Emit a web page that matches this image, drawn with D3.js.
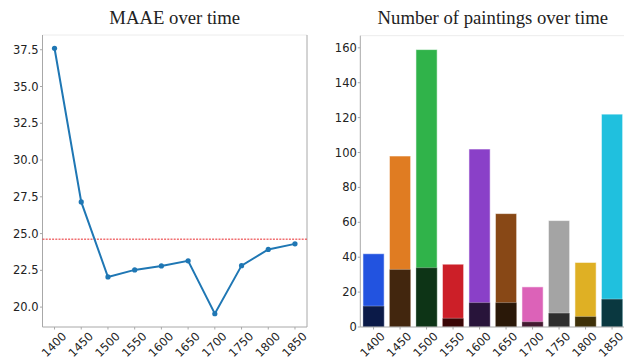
<!DOCTYPE html>
<html><head><meta charset="utf-8">
<script src="https://cdn.jsdelivr.net/npm/d3@7"></script>
<style>body{margin:0;background:#fff}svg{display:block}</style>
</head><body>
<svg id="c" width="624" height="361"></svg>
<script>
const years = [1400,1450,1500,1550,1600,1650,1700,1750,1800,1850];
const maae = [37.6,27.15,22.05,22.53,22.8,23.15,19.55,22.82,23.92,24.3];
const maaeMean = [24.62];
const totalCounts = [42,98,159,36,102,65,23,61,37,122];
const darkCounts = [12,33,34,5,14,14,3,8,6,16];
const barColors = ["#2253e0","#e07c22","#30b34a","#cc1f28","#8a40c8","#884816","#dc62b8","#a4a4a4","#dfb024","#20c0de"];
const darkColors = ["#0b1a48","#42260e","#0d3416","#3a0606","#28143a","#2a1808","#421a30","#2e2e2e","#3e3008","#0a3840"];
const leftYTicks = [20.0,22.5,25.0,27.5,30.0,32.5,35.0,37.5];
const rightYTicks = [0,20,40,60,80,100,120,140,160];
const titles = ["MAAE over time","Number of paintings over time"];

const svg = d3.select("#c");
const tickFont = "DejaVu Sans";
const fs = "11.5px";
const spine = "#a8a8a8";

// ---------- Left chart ----------
const L = {x0:42.5, x1:307, y0:35, y1:327};
const xL = d3.scaleLinear().domain([1400-22.5,1850+22.5]).range([L.x0,L.x1]);
const mn = d3.min(maae), mx = d3.max(maae), pad = (mx-mn)*0.05;
const yL = d3.scaleLinear().domain([mn-pad, mx+pad]).range([L.y1,L.y0]);
const gL = svg.append("g");
gL.append("line").attr("x1",L.x0).attr("x2",L.x1).attr("y1",L.y0).attr("y2",L.y0).attr("stroke","#ececec");
gL.append("line").attr("x1",L.x1).attr("x2",L.x1).attr("y1",L.y0).attr("y2",L.y1).attr("stroke",spine);
gL.append("line").attr("x1",L.x0).attr("x2",L.x0).attr("y1",L.y0).attr("y2",L.y1).attr("stroke",spine);
gL.append("line").attr("x1",L.x0).attr("x2",L.x1).attr("y1",L.y1).attr("y2",L.y1).attr("stroke",spine);
// y ticks
leftYTicks.forEach(t=>{
  const y = yL(t);
  gL.append("line").attr("x1",L.x0-2.5).attr("x2",L.x0).attr("y1",y).attr("y2",y).attr("stroke",spine);
  gL.append("text").attr("x",L.x0-4).attr("y",y).attr("text-anchor","end").attr("dominant-baseline","central")
    .attr("font-family",tickFont).attr("font-size",fs).attr("fill","#222").text(t.toFixed(1));
});
years.forEach(t=>{
  const x = xL(t);
  gL.append("line").attr("x1",x).attr("x2",x).attr("y1",L.y1).attr("y2",L.y1+2.5).attr("stroke",spine);
  gL.append("text").attr("transform",`translate(${x-0.5},344.5) rotate(-45)`).attr("text-anchor","middle").attr("dominant-baseline","central")
    .attr("font-family",tickFont).attr("font-size",fs).attr("fill","#222").text(t);
});
// mean line
gL.append("line").attr("x1",L.x0).attr("x2",L.x1).attr("y1",yL(maaeMean[0])).attr("y2",yL(maaeMean[0]))
  .attr("stroke","#e8262a").attr("stroke-width",1).attr("stroke-dasharray","2,1.2");
const line = d3.line().x((d,i)=>xL(years[i])).y(d=>yL(d));
gL.append("path").datum(maae).attr("d",line).attr("fill","none").attr("stroke","#1f77b4").attr("stroke-width",2);
gL.selectAll("circle").data(maae).join("circle").attr("cx",(d,i)=>xL(years[i])).attr("cy",d=>yL(d)).attr("r",2.6).attr("fill","#1f77b4");
gL.append("text").attr("x",(L.x0+L.x1)/2).attr("y",24).attr("text-anchor","middle")
  .attr("font-family","Liberation Serif").attr("font-size","18.7px").attr("fill","#222").text(titles[0]);

// ---------- Right chart ----------
const R = {x0:360.3, x1:625.3, y0:35.7, y1:327};
const xR = d3.scaleBand().domain(years).range([R.x0,R.x1]).paddingInner(0.2).paddingOuter(0.1);
const yR = d3.scaleLinear().domain([0, d3.max(totalCounts)*1.05]).range([R.y1,R.y0]);
const gR = svg.append("g");
gR.append("line").attr("x1",R.x0).attr("x2",R.x1).attr("y1",R.y0).attr("y2",R.y0).attr("stroke","#ececec");
rightYTicks.forEach(t=>{
  const y = yR(t);
  gR.append("line").attr("x1",R.x0-2.5).attr("x2",R.x0).attr("y1",y).attr("y2",y).attr("stroke",spine);
  gR.append("text").attr("x",R.x0-3.5).attr("y",y).attr("text-anchor","end").attr("dominant-baseline","central")
    .attr("font-family",tickFont).attr("font-size",fs).attr("fill","#222").text(t);
});
gR.selectAll("rect.tot").data(totalCounts).join("rect").attr("class","tot")
  .attr("x",(d,i)=>xR(years[i])).attr("width",xR.bandwidth())
  .attr("y",d=>yR(d)).attr("height",d=>R.y1-yR(d))
  .attr("fill",(d,i)=>barColors[i]).attr("stroke","rgba(255,255,255,0.55)").attr("stroke-width",1);
gR.selectAll("rect.dk").data(darkCounts).join("rect").attr("class","dk")
  .attr("x",(d,i)=>xR(years[i])).attr("width",xR.bandwidth())
  .attr("y",d=>yR(d)).attr("height",d=>R.y1-yR(d))
  .attr("fill",(d,i)=>darkColors[i]).attr("stroke","rgba(255,255,255,0.3)").attr("stroke-width",1);
gR.append("line").attr("x1",R.x0).attr("x2",R.x0).attr("y1",R.y0).attr("y2",R.y1).attr("stroke",spine);
gR.append("line").attr("x1",R.x0).attr("x2",R.x1).attr("y1",R.y1).attr("y2",R.y1).attr("stroke",spine);
years.forEach(t=>{
  const x = xR(t)+xR.bandwidth()/2;
  gR.append("line").attr("x1",x).attr("x2",x).attr("y1",R.y1).attr("y2",R.y1+2.5).attr("stroke",spine);
  gR.append("text").attr("transform",`translate(${x-1},344.5) rotate(-45)`).attr("text-anchor","middle").attr("dominant-baseline","central")
    .attr("font-family",tickFont).attr("font-size",fs).attr("fill","#222").text(t);
});
gR.append("text").attr("x",(R.x0+R.x1)/2).attr("y",24).attr("text-anchor","middle")
  .attr("font-family","Liberation Serif").attr("font-size","18.7px").attr("fill","#222").text(titles[1]);
</script>
</body></html>
